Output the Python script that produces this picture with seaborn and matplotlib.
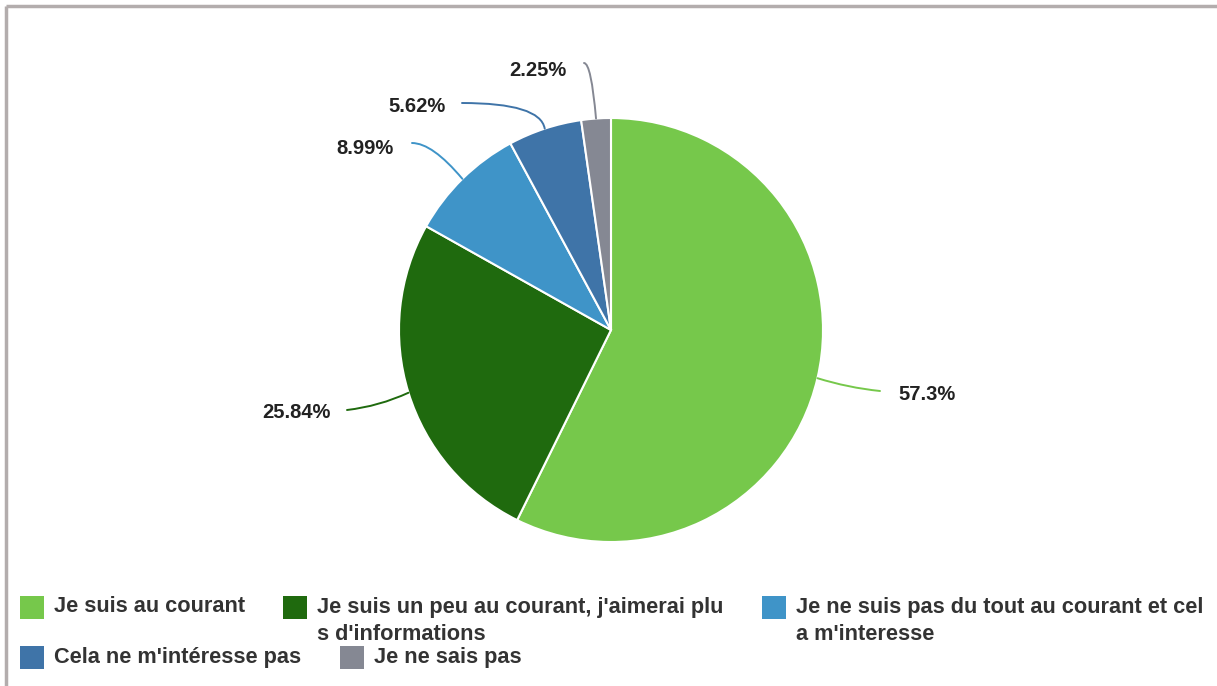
import numpy as np
import matplotlib
matplotlib.use("Agg")
import matplotlib.pyplot as plt
from matplotlib.patches import Rectangle
import seaborn as sns

categories = [
    "Je suis au courant",
    "Je suis un peu au courant, j'aimerai plus d'informations",
    "Je ne suis pas du tout au courant et cela m'interesse",
    "Cela ne m'intéresse pas",
    "Je ne sais pas",
]
values = [57.3, 25.84, 8.99, 5.62, 2.25]
value_labels = ["57.3%", "25.84%", "8.99%", "5.62%", "2.25%"]
colors = ["#76c84b", "#1f6a0e", "#3f94c8", "#3f74a8", "#858893"]

sns.set_theme(style="white")
plt.rcParams["font.family"] = ["Liberation Sans", "DejaVu Sans"]

W, H = 1217, 686
fig = plt.figure(figsize=(W / 100, H / 100), dpi=100)
ax = fig.add_axes([0, 0, 1, 1])

def Y(y):
    return H - y

cx, cy, R = 611, 330, 212
wedges, _ = ax.pie(values, colors=sns.color_palette(colors), startangle=90,
                   counterclock=False, center=(cx, Y(cy)), radius=R,
                   wedgeprops=dict(edgecolor="white", linewidth=1.5), frame=True)
ax.set_xlim(0, W)
ax.set_ylim(0, H)
ax.set_aspect("equal")
ax.axis("off")

# label layout (image pixel coords): line end, text pos, ha, connection style
layout = [
    ((880, 391), (898, 395), "left", "arc3,rad=-0.05"),
    ((347, 410), (331, 413), "right", "arc3,rad=0.08"),
    ((412, 143), (394, 148), "right", "angle3,angleA=0,angleB=130"),
    ((462, 103), (446, 107), "right", "angle3,angleA=0,angleB=100"),
    ((584, 63), (566, 70), "right", "angle3,angleA=0,angleB=95"),
]
for w, lab, col, (lend, tpos, ha, cs) in zip(wedges, value_labels, colors, layout):
    mid = np.deg2rad((w.theta1 + w.theta2) / 2)
    ex, ey = cx + R * np.cos(mid), Y(cy) + R * np.sin(mid)
    ax.annotate("", xy=(ex, ey), xytext=(lend[0], Y(lend[1])),
                arrowprops=dict(arrowstyle="-", color=col, lw=1.4,
                                shrinkA=0, shrinkB=0, connectionstyle=cs))
    ax.text(tpos[0], Y(tpos[1]), lab, ha=ha, va="center", fontsize=14.5,
            fontweight="bold", color="#222222")

# legend
leg_pos = [(20, 607), (283, 607), (762, 607), (20, 657), (340, 657)]
for cat, col, (lx, ly) in zip(categories, colors, leg_pos):
    ax.add_patch(Rectangle((lx, Y(ly) - 11.5), 24, 23, facecolor=col, edgecolor="none"))
    lines = [cat[i:i + 40] for i in range(0, len(cat), 40)]
    for k, line in enumerate(lines):
        ax.text(lx + 34, Y(ly + 27 * k), line, ha="left", va="center",
                fontsize=15.7, fontweight="bold", color="#333333")

# frame lines
ax.plot([6, 6], [Y(6), 0], color="#b3adad", lw=2.5, solid_capstyle="butt")
ax.plot([6, W], [Y(6), Y(6)], color="#b3adad", lw=2.5, solid_capstyle="butt")

fig.savefig("out.png", dpi=100)
